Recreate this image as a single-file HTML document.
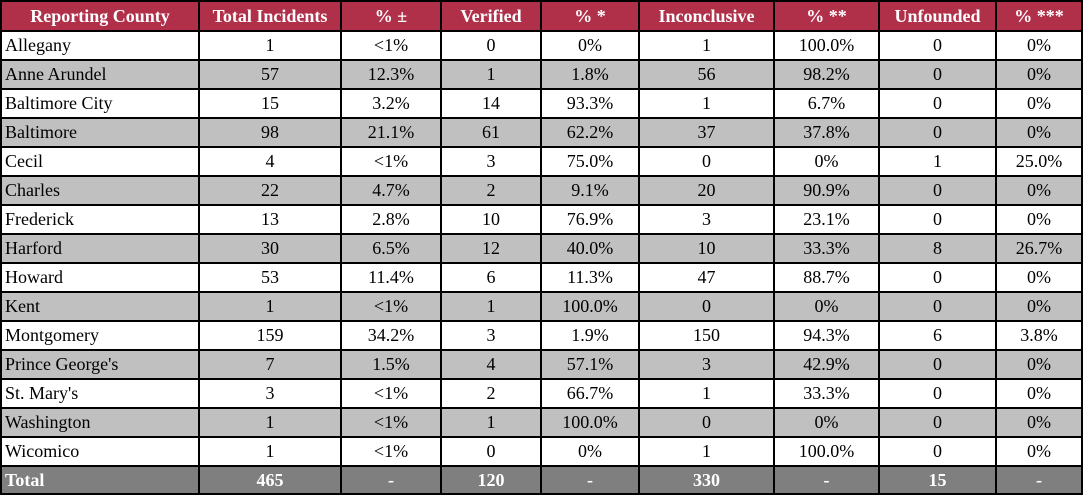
<!DOCTYPE html>
<html><head><meta charset="utf-8"><style>
html,body{margin:0;padding:0;background:#fff;width:1083px;height:496px;overflow:hidden}
table{position:absolute;left:0;top:0;border-collapse:collapse;table-layout:fixed;font-family:"Liberation Serif",serif;font-size:18px;color:#000}
td,th{border:2px solid #000;padding:0 3px;height:27px;text-align:center;white-space:nowrap;overflow:hidden}
th{background:#b0304a;color:#fff;font-weight:bold;height:28px}
td:first-child{text-align:left}
tr.g td{background:#c0c0c0}
tr.t td{background:#7f7f7f;color:#fff;font-weight:bold;height:26px}
</style></head><body>
<table>
<colgroup><col style="width:198px"><col style="width:142px"><col style="width:100px"><col style="width:100px"><col style="width:98px"><col style="width:135px"><col style="width:105px"><col style="width:117px"><col style="width:86px"></colgroup>
<tr><th>Reporting County</th><th>Total Incidents</th><th>% ±</th><th>Verified</th><th>% *</th><th>Inconclusive</th><th>% **</th><th>Unfounded</th><th>% ***</th></tr>
<tr><td>Allegany</td><td>1</td><td>&lt;1%</td><td>0</td><td>0%</td><td>1</td><td>100.0%</td><td>0</td><td>0%</td></tr>
<tr class="g"><td>Anne Arundel</td><td>57</td><td>12.3%</td><td>1</td><td>1.8%</td><td>56</td><td>98.2%</td><td>0</td><td>0%</td></tr>
<tr><td>Baltimore City</td><td>15</td><td>3.2%</td><td>14</td><td>93.3%</td><td>1</td><td>6.7%</td><td>0</td><td>0%</td></tr>
<tr class="g"><td>Baltimore</td><td>98</td><td>21.1%</td><td>61</td><td>62.2%</td><td>37</td><td>37.8%</td><td>0</td><td>0%</td></tr>
<tr><td>Cecil</td><td>4</td><td>&lt;1%</td><td>3</td><td>75.0%</td><td>0</td><td>0%</td><td>1</td><td>25.0%</td></tr>
<tr class="g"><td>Charles</td><td>22</td><td>4.7%</td><td>2</td><td>9.1%</td><td>20</td><td>90.9%</td><td>0</td><td>0%</td></tr>
<tr><td>Frederick</td><td>13</td><td>2.8%</td><td>10</td><td>76.9%</td><td>3</td><td>23.1%</td><td>0</td><td>0%</td></tr>
<tr class="g"><td>Harford</td><td>30</td><td>6.5%</td><td>12</td><td>40.0%</td><td>10</td><td>33.3%</td><td>8</td><td>26.7%</td></tr>
<tr><td>Howard</td><td>53</td><td>11.4%</td><td>6</td><td>11.3%</td><td>47</td><td>88.7%</td><td>0</td><td>0%</td></tr>
<tr class="g"><td>Kent</td><td>1</td><td>&lt;1%</td><td>1</td><td>100.0%</td><td>0</td><td>0%</td><td>0</td><td>0%</td></tr>
<tr><td>Montgomery</td><td>159</td><td>34.2%</td><td>3</td><td>1.9%</td><td>150</td><td>94.3%</td><td>6</td><td>3.8%</td></tr>
<tr class="g"><td>Prince George's</td><td>7</td><td>1.5%</td><td>4</td><td>57.1%</td><td>3</td><td>42.9%</td><td>0</td><td>0%</td></tr>
<tr><td>St. Mary's</td><td>3</td><td>&lt;1%</td><td>2</td><td>66.7%</td><td>1</td><td>33.3%</td><td>0</td><td>0%</td></tr>
<tr class="g"><td>Washington</td><td>1</td><td>&lt;1%</td><td>1</td><td>100.0%</td><td>0</td><td>0%</td><td>0</td><td>0%</td></tr>
<tr><td>Wicomico</td><td>1</td><td>&lt;1%</td><td>0</td><td>0%</td><td>1</td><td>100.0%</td><td>0</td><td>0%</td></tr>
<tr class="t"><td>Total</td><td>465</td><td>-</td><td>120</td><td>-</td><td>330</td><td>-</td><td>15</td><td>-</td></tr>
</table>
</body></html>
